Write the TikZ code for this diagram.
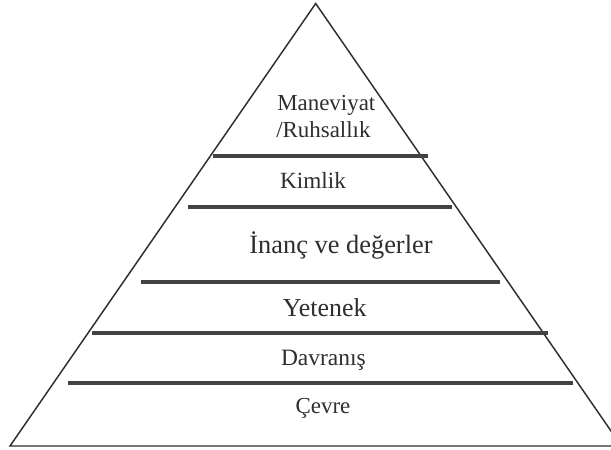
\documentclass[tikz,border=0pt]{standalone}
\usepackage{fontspec}
\setmainfont{Liberation Serif}
\definecolor{ink}{HTML}{2E2E2E}
\tikzset{
  lbl/.style={inner sep=0pt, anchor=base, text=ink},
  tier/.style={draw=ink!90, line width=3pt},
  tri/.style={draw=ink, line width=1.1pt, line join=miter}
}
\begin{document}
\begin{tikzpicture}[x=0.75pt, y=-0.75pt]
\useasboundingbox (0,0) rectangle (611,450);
\begin{scope}
\clip (0,0) rectangle (611,450);
\coordinate (apex) at (315.7,3.5);
\coordinate (bl) at (10,446);
\coordinate (br) at (621.4,446);
\draw[tri] (bl) -- (apex) -- (br) -- cycle;
\end{scope}
\draw[tier] (213,156) -- (428,156);
\draw[tier] (188,206.5) -- (452,206.5);
\draw[tier] (141,282) -- (500,282);
\draw[tier] (92,333) -- (548,333);
\draw[tier] (68,383) -- (573,383);
\node[lbl, anchor=base west, font=\fontsize{17.2}{20}\selectfont] (m1) at (277,110) {Maneviyat};
\node[lbl, anchor=base west, font=\fontsize{17.2}{20}\selectfont] (m2) at (276,137.7) {/Ruhsallık};
\node[lbl, font=\fontsize{17.4}{20}\selectfont] (kim) at (313,188) {Kimlik};
\node[lbl, font=\fontsize{19.8}{22}\selectfont] (inanc) at (341,253) {İnanç ve değerler};
\node[lbl, font=\fontsize{19.4}{22}\selectfont] (yet) at (324.7,316.7) {Yetenek};
\node[lbl, font=\fontsize{17.6}{20}\selectfont] (dav) at (323.4,365) {Davranış};
\node[lbl, font=\fontsize{17.2}{20}\selectfont] (cev) at (323,413) {Çevre};
\end{tikzpicture}
\end{document}
